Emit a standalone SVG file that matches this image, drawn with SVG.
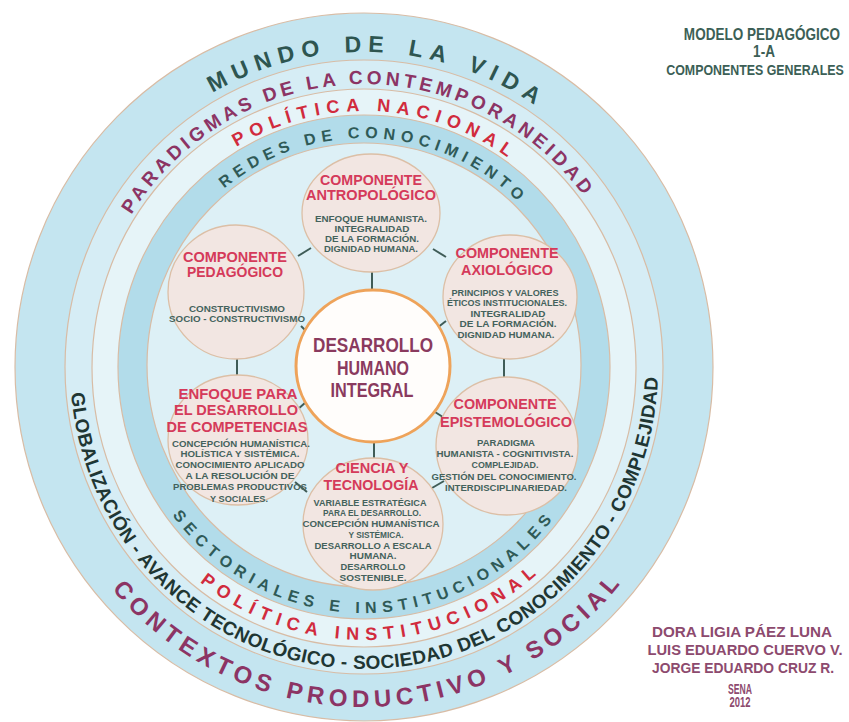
<svg xmlns="http://www.w3.org/2000/svg" width="849" height="722" viewBox="0 0 849 722">
<style>
.band{stroke:#d8bca5;stroke-width:1.2}
.node{fill:#f2e6e2;stroke:#dcbfa6;stroke-width:1.3}
.ctr{fill:#fffdfb;stroke:#eea35a;stroke-width:3}
.arc{font-family:"Liberation Sans",Arial,sans-serif;font-weight:bold}
.t{font-family:"Liberation Sans",Arial,sans-serif;font-weight:bold;text-anchor:middle;fill:#d53a5a;font-size:14.5px}
.b{font-family:"Liberation Sans",Arial,sans-serif;font-weight:bold;text-anchor:middle;fill:#44625c;font-size:9.5px}
.c{font-family:"Liberation Sans",Arial,sans-serif;font-weight:bold;text-anchor:middle;fill:#8a3a5e;font-size:21px}
.h{font-family:"Liberation Sans",Arial,sans-serif;font-weight:bold;fill:#3c5f56;text-anchor:middle}
.a{font-family:"Liberation Sans",Arial,sans-serif;font-weight:bold;text-anchor:middle;fill:#8d4a6e;font-size:15px}
.conn line{stroke:#3f5c57;stroke-width:2}
</style>
<defs>
<path id="p1t" d="M 57,367 A 307 315 0 0 1 671,367"/>
<path id="p2t" d="M 88,367 A 276 283 0 0 1 640,367"/>
<path id="p3t" d="M 114,367 A 250 256 0 0 1 614,367"/>
<path id="p4t" d="M 141,367 A 223 229 0 0 1 587,367"/>
<path id="p1b" d="M 31,367 A 333 340 0 0 0 697,367"/>
<path id="p2b" d="M 70,367 A 294 302 0 0 0 658,367"/>
<path id="p3b" d="M 98,367 A 266 273 0 0 0 630,367"/>
<path id="p4b" d="M 124,367 A 240 246 0 0 0 604,367"/>
</defs>
<rect width="849" height="722" fill="#ffffff"/>
<g id="rings">
<ellipse class="band" cx="364" cy="367" rx="349" ry="354" fill="#c4e5f0"/>
<ellipse class="band" cx="364" cy="367" rx="299" ry="307" fill="#d6edf5"/>
<ellipse class="band" cx="364" cy="368" rx="272" ry="279" fill="#e6f4f8"/>
<ellipse class="band" cx="364" cy="367" rx="246" ry="252" fill="#b2dcea"/>
<ellipse class="band" cx="364" cy="365" rx="217" ry="222" fill="#ddf0f6"/>
</g>
<g id="ring-labels">
<text class="arc" font-size="23" fill="#2e5550" letter-spacing="7" word-spacing="4"><textPath href="#p1t" startOffset="51.5%" text-anchor="middle">MUNDO DE LA VIDA</textPath></text>
<text class="arc" font-size="19" fill="#8c3464" letter-spacing="4"><textPath href="#p2t" startOffset="429" text-anchor="middle">PARADIGMAS DE LA CONTEMPORANEIDAD</textPath></text>
<text class="arc" font-size="18" fill="#d12b3d" letter-spacing="6.5"><textPath href="#p3t" startOffset="410" text-anchor="middle">POLÍTICA NACIONAL</textPath></text>
<text class="arc" font-size="16" fill="#2f5a57" letter-spacing="5.5"><textPath href="#p4t" startOffset="367" text-anchor="middle">REDES DE CONOCIMIENTO</textPath></text>
<text class="arc" font-size="24" fill="#8c3464" letter-spacing="5.2"><textPath href="#p1b" startOffset="534" text-anchor="middle">CONTEXTOS PRODUCTIVO Y SOCIAL</textPath></text>
<text class="arc" font-size="19" fill="#1f3633" letter-spacing="0.4"><textPath href="#p2b" startOffset="476" text-anchor="middle">GLOBALIZACIÓN - AVANCE TECNOLÓGICO - SOCIEDAD DEL CONOCIMIENTO - COMPLEJIDAD</textPath></text>
<text class="arc" font-size="18" fill="#d12b3d" letter-spacing="6.6"><textPath href="#p3b" startOffset="432" text-anchor="middle">POLÍTICA INSTITUCIONAL</textPath></text>
<text class="arc" font-size="16" fill="#2f5a57" letter-spacing="5.8"><textPath href="#p4b" startOffset="50%" text-anchor="middle">SECTORIALES E INSTITUCIONALES</textPath></text>
</g>
<g class="conn" id="connectors">
<line x1="298" y1="256" x2="311" y2="248"/>
<line x1="433" y1="249" x2="446" y2="257"/>
<line x1="372" y1="272" x2="372" y2="291"/>
<line x1="237" y1="359" x2="237" y2="376"/>
<line x1="504" y1="359" x2="504" y2="377"/>
<line x1="301" y1="326" x2="309" y2="334"/>
<line x1="437" y1="328" x2="446" y2="321"/>
<line x1="297" y1="410" x2="306" y2="402"/>
<line x1="435" y1="412" x2="446" y2="419"/>
<line x1="374" y1="441" x2="374" y2="458"/>
<line x1="295" y1="482" x2="307" y2="492"/>
<line x1="432" y1="488" x2="444" y2="481"/>
</g>
<g id="antropologico">
<ellipse class="node" cx="371" cy="213" rx="69" ry="59"/>
<text class="t" x="371" y="185" textLength="102" lengthAdjust="spacingAndGlyphs">COMPONENTE</text>
<text class="t" x="371" y="200" textLength="130" lengthAdjust="spacingAndGlyphs">ANTROPOLÓGICO</text>
<text class="b" x="371" y="222" textLength="112" lengthAdjust="spacingAndGlyphs">ENFOQUE HUMANISTA.</text>
<text class="b" x="372" y="232" textLength="75" lengthAdjust="spacingAndGlyphs">INTEGRALIDAD</text>
<text class="b" x="372" y="242" textLength="94" lengthAdjust="spacingAndGlyphs">DE LA FORMACIÓN.</text>
<text class="b" x="371" y="252" textLength="94" lengthAdjust="spacingAndGlyphs">DIGNIDAD HUMANA.</text>
</g>
<g id="pedagogico">
<ellipse class="node" cx="236" cy="292" rx="68" ry="67"/>
<text class="t" x="235" y="262" textLength="104" lengthAdjust="spacingAndGlyphs">COMPONENTE</text>
<text class="t" x="235" y="277" textLength="96" lengthAdjust="spacingAndGlyphs">PEDAGÓGICO</text>
<text class="b" x="237" y="312" textLength="96" lengthAdjust="spacingAndGlyphs">CONSTRUCTIVISMO</text>
<text class="b" x="237" y="322" textLength="136" lengthAdjust="spacingAndGlyphs">SOCIO - CONSTRUCTIVISMO</text>
</g>
<g id="axiologico">
<ellipse class="node" cx="510" cy="297" rx="67" ry="62"/>
<text class="t" x="507" y="258" textLength="103" lengthAdjust="spacingAndGlyphs">COMPONENTE</text>
<text class="t" x="507" y="275" textLength="92" lengthAdjust="spacingAndGlyphs">AXIOLÓGICO</text>
<text class="b" x="505" y="296" textLength="107" lengthAdjust="spacingAndGlyphs">PRINCIPIOS Y VALORES</text>
<text class="b" x="507" y="306" textLength="120" lengthAdjust="spacingAndGlyphs">ÉTICOS INSTITUCIONALES.</text>
<text class="b" x="508" y="317" textLength="75" lengthAdjust="spacingAndGlyphs">INTEGRALIDAD</text>
<text class="b" x="508" y="327" textLength="97" lengthAdjust="spacingAndGlyphs">DE LA FORMACIÓN.</text>
<text class="b" x="506" y="338" textLength="97" lengthAdjust="spacingAndGlyphs">DIGNIDAD HUMANA.</text>
</g>
<g id="enfoque">
<ellipse class="node" cx="238" cy="440" rx="70" ry="65"/>
<text class="t" x="238" y="399" textLength="119" lengthAdjust="spacingAndGlyphs">ENFOQUE PARA</text>
<text class="t" x="236" y="415" textLength="124" lengthAdjust="spacingAndGlyphs">EL DESARROLLO</text>
<text class="t" x="237" y="432" textLength="141" lengthAdjust="spacingAndGlyphs">DE COMPETENCIAS</text>
<text class="b" x="241" y="447" textLength="138" lengthAdjust="spacingAndGlyphs">CONCEPCIÓN HUMANÍSTICA.</text>
<text class="b" x="240" y="457" textLength="119" lengthAdjust="spacingAndGlyphs">HOLÍSTICA Y SISTÉMICA.</text>
<text class="b" x="240" y="468" textLength="129" lengthAdjust="spacingAndGlyphs">CONOCIMIENTO APLICADO</text>
<text class="b" x="240" y="479" textLength="109" lengthAdjust="spacingAndGlyphs">A LA RESOLUCIÓN DE</text>
<text class="b" x="240" y="490" textLength="134" lengthAdjust="spacingAndGlyphs">PROBLEMAS PRODUCTIVOS</text>
<text class="b" x="239" y="502" textLength="58" lengthAdjust="spacingAndGlyphs">Y SOCIALES.</text>
</g>
<g id="epistemologico">
<ellipse class="node" cx="507" cy="446" rx="71" ry="69"/>
<text class="t" x="505" y="409" textLength="103" lengthAdjust="spacingAndGlyphs">COMPONENTE</text>
<text class="t" x="506" y="427" textLength="132" lengthAdjust="spacingAndGlyphs">EPISTEMOLÓGICO</text>
<text class="b" x="506" y="446" textLength="58" lengthAdjust="spacingAndGlyphs">PARADIGMA</text>
<text class="b" x="505" y="457" textLength="137" lengthAdjust="spacingAndGlyphs">HUMANISTA - COGNITIVISTA.</text>
<text class="b" x="505" y="468" textLength="67" lengthAdjust="spacingAndGlyphs">COMPLEJIDAD.</text>
<text class="b" x="504" y="480" textLength="145" lengthAdjust="spacingAndGlyphs">GESTIÓN DEL CONOCIMIENTO.</text>
<text class="b" x="506" y="491" textLength="122" lengthAdjust="spacingAndGlyphs">INTERDISCIPLINARIEDAD.</text>
</g>
<g id="ciencia">
<ellipse class="node" cx="373" cy="524" rx="70" ry="66"/>
<text class="t" x="372" y="473" textLength="73" lengthAdjust="spacingAndGlyphs">CIENCIA Y</text>
<text class="t" x="371" y="490" textLength="95" lengthAdjust="spacingAndGlyphs">TECNOLOGÍA</text>
<text class="b" x="370" y="506" textLength="113" lengthAdjust="spacingAndGlyphs">VARIABLE ESTRATÉGICA</text>
<text class="b" x="372" y="516" textLength="98" lengthAdjust="spacingAndGlyphs">PARA EL DESARROLLO.</text>
<text class="b" x="371" y="527" textLength="137" lengthAdjust="spacingAndGlyphs">CONCEPCIÓN HUMANÍSTICA</text>
<text class="b" x="376" y="538" textLength="55" lengthAdjust="spacingAndGlyphs">Y SISTÉMICA.</text>
<text class="b" x="373" y="549" textLength="117" lengthAdjust="spacingAndGlyphs">DESARROLLO A ESCALA</text>
<text class="b" x="373" y="559" textLength="47" lengthAdjust="spacingAndGlyphs">HUMANA.</text>
<text class="b" x="373" y="570" textLength="65" lengthAdjust="spacingAndGlyphs">DESARROLLO</text>
<text class="b" x="373" y="581" textLength="67" lengthAdjust="spacingAndGlyphs">SOSTENIBLE.</text>
</g>
<g id="desarrollo">
<ellipse class="ctr" cx="373" cy="366" rx="77" ry="76"/>
<text class="c" x="373" y="352" textLength="120" lengthAdjust="spacingAndGlyphs">DESARROLLO</text>
<text class="c" x="373" y="375" textLength="72" lengthAdjust="spacingAndGlyphs">HUMANO</text>
<text class="c" x="372" y="397" textLength="83" lengthAdjust="spacingAndGlyphs">INTEGRAL</text>
</g>
<g id="titulo">
<text class="h" transform="translate(762,40) scale(0.82,1)" font-size="16.5">MODELO PEDAGÓGICO</text>
<text class="h" transform="translate(764,57) scale(0.82,1)" font-size="16.5">1-A</text>
<text class="h" transform="translate(755,75) scale(0.8,1)" font-size="15.5">COMPONENTES GENERALES</text>
</g>
<g id="autores">
<text class="a" x="742" y="637" textLength="180" lengthAdjust="spacingAndGlyphs">DORA LIGIA PÁEZ LUNA</text>
<text class="a" x="745" y="655" textLength="195" lengthAdjust="spacingAndGlyphs">LUIS EDUARDO CUERVO V.</text>
<text class="a" x="743" y="673" textLength="182" lengthAdjust="spacingAndGlyphs">JORGE EDUARDO CRUZ R.</text>
<text class="a" x="740" y="694" font-size="10" textLength="24" lengthAdjust="spacingAndGlyphs">SENA</text>
<text class="a" x="740" y="707" font-size="10" textLength="21" lengthAdjust="spacingAndGlyphs">2012</text>
</g>
</svg>
